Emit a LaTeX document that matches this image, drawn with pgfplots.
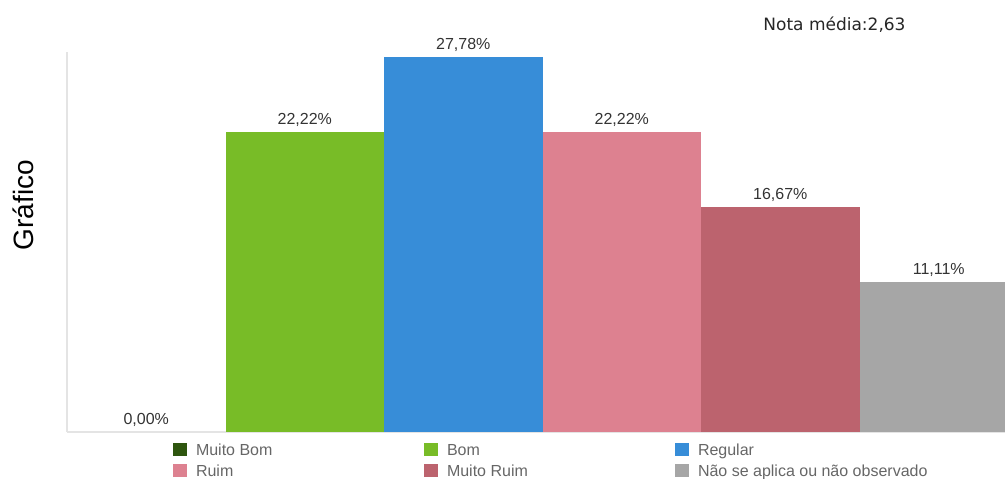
\documentclass[border=0pt]{standalone}
\usepackage{fontspec}
\setmainfont{Liberation Sans}
\newfontfamily\dejavu{DejaVu Sans}
\usepackage{pgfplots}
\pgfplotsset{compat=1.18}
\definecolor{cMB}{RGB}{46,86,14}
\definecolor{cB}{RGB}{120,188,39}
\definecolor{cR}{RGB}{55,141,216}
\definecolor{cRu}{RGB}{221,129,144}
\definecolor{cMR}{RGB}{188,99,110}
\definecolor{cNA}{RGB}{166,166,166}
\definecolor{axgray}{RGB}{228,228,228}
\definecolor{lblgray}{RGB}{51,51,51}
\definecolor{leggray}{RGB}{102,102,102}
\begin{document}
\begin{tikzpicture}
\begin{axis}[
  at={(0,0)}, anchor=south west,
  scale only axis, width=938bp, height=380bp,
  xmin=-0.5, xmax=5.418, ymin=0, ymax=28.15,
  xtick=\empty, ytick=\empty,
  axis lines*=left,
  axis line style={draw=axgray, line width=2bp, -},
  every axis plot/.append style={ybar, bar width=1, bar shift=0pt, draw=none,
    legend image code/.code={\fill[##1] (0bp,-6.5bp) rectangle (14bp,6.5bp);}},
  point meta=y,
  nodes near coords={\pgfmathprintnumber[fixed,fixed zerofill,precision=2,use comma,assume math mode=true]{\pgfplotspointmeta}\%},
  every node near coord/.append style={font=\fontsize{16bp}{18bp}\selectfont, text=lblgray, inner sep=0pt, text depth=0pt, yshift=7bp},
  legend cell align=left,
  legend columns=3,
  legend style={at={(axis description cs:0.1130,-0.0290)}, anchor=north west,
    draw=none, fill=none, inner sep=0pt, outer sep=0pt, row sep=8bp,
    font=\fontsize{16bp}{18bp}\selectfont, text=leggray,
    nodes={inner sep=0pt, text height=12bp, text depth=0pt},
    /tikz/every odd column/.append style={column sep=9bp}},
]
\addplot[fill=cMB] coordinates {(0,0)};
\addlegendentry{\makebox[228bp][l]{Muito Bom}}
\addplot[fill=cB] coordinates {(1,22.22)};
\addlegendentry{\makebox[228bp][l]{Bom}}
\addplot[fill=cR] coordinates {(2,27.78)};
\addlegendentry{\makebox[228bp][l]{Regular}}
\addplot[fill=cRu] coordinates {(3,22.22)};
\addlegendentry{\makebox[228bp][l]{Ruim}}
\addplot[fill=cMR] coordinates {(4,16.67)};
\addlegendentry{\makebox[228bp][l]{Muito Ruim}}
\addplot[fill=cNA] coordinates {(5,11.11)};
\addlegendentry{\makebox[228bp][l]{Não se aplica ou não observado}}
\end{axis}
\node[font=\dejavu\fontsize{17bp}{20bp}\selectfont, text=black!85, anchor=base] at (767.5bp,401bp) {Nota média:2,63};
\node[font=\fontsize{28bp}{32bp}\selectfont, rotate=90] at (-44bp,227bp) {Gráfico};
\pgfresetboundingbox
\useasboundingbox (-67bp,-47bp) rectangle (938bp,432bp);
\end{tikzpicture}
\end{document}
